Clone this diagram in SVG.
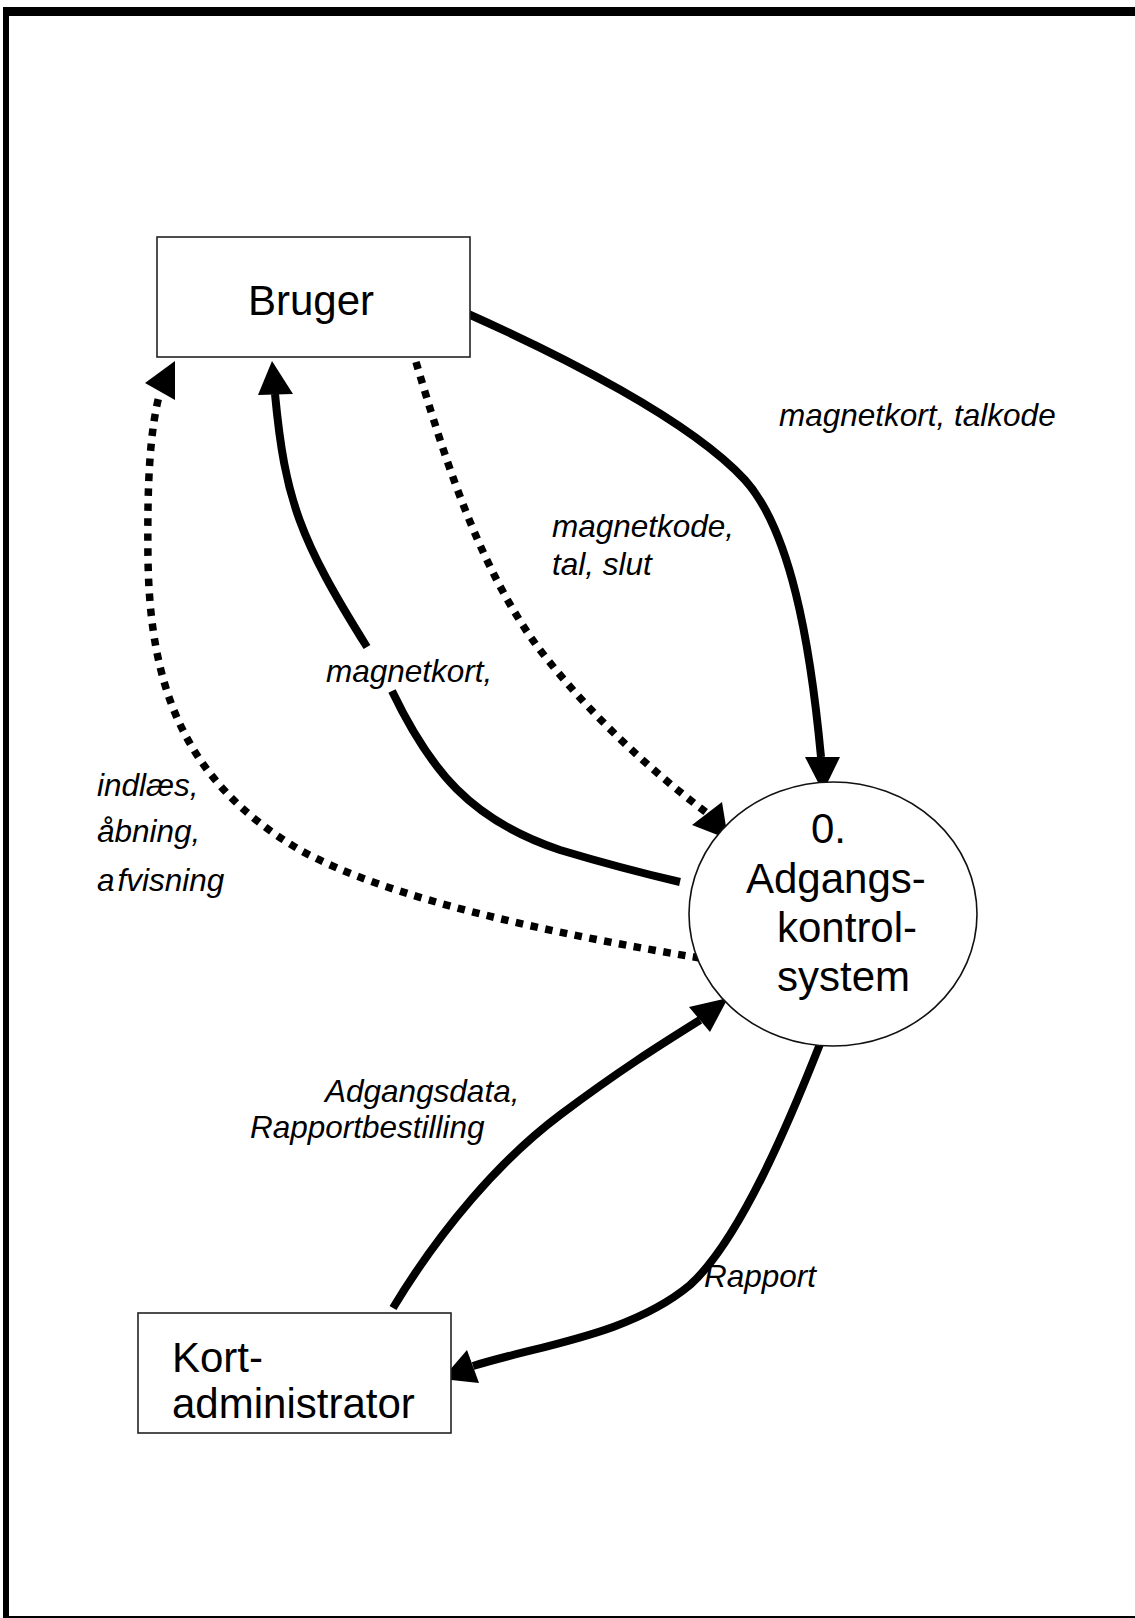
<svg xmlns="http://www.w3.org/2000/svg" width="1135" height="1618" viewBox="0 0 1135 1618">
  <style>
    .frame { fill: #000; }
    .box { fill: #fff; stroke: #222; stroke-width: 1.6; }
    .proc { fill: #fff; stroke: #111; stroke-width: 1.6; }
    .name { font-family: "Liberation Sans", Arial, sans-serif; font-size: 42px; fill: #000; }
    .lbl { font-family: "Liberation Sans", Arial, sans-serif; font-size: 31.5px; font-style: italic; fill: #000; }
    .flow { fill: none; stroke: #000; stroke-width: 8; }
    .dot { fill: none; stroke: #000; stroke-width: 7.5; stroke-dasharray: 7.5 7.5; }
    .head { fill: #000; }
  </style>

  <!-- page frame -->
  <g id="frame">
    <rect class="frame" x="3" y="7" width="1132" height="9"/>
    <rect class="frame" x="3" y="7" width="6" height="1611"/>
    <rect class="frame" x="3" y="1616" width="1132" height="2"/>
  </g>

  <!-- data flows -->
  <g id="connectors">
    <!-- Bruger -> system: magnetkort, talkode -->
    <path class="flow" d="M466,313 C560,355 690,420 745,480 C790,530 810,640 821,757"/>
    <polygon class="head" points="823,792 805,757 840,757"/>

    <!-- Bruger -> system: magnetkode, tal, slut (dotted) -->
    <path class="dot" d="M416,362 C445,460 480,570 540,650 C590,715 650,770 707,813"/>
    <polygon class="head" points="728,839 692,825 722,802"/>

    <!-- system -> Bruger: magnetkort -->
    <path class="flow" d="M680,882 C650,875 620,868 560,850 C470,820 430,770 392,691"/>
    <path class="flow" d="M367,647 C300,540 285,500 275,394"/>
    <polygon class="head" points="272,361 258,395 293,394"/>

    <!-- system -> Bruger: indlæs, åbning, afvisning (dotted) -->
    <path class="dot" d="M700,958 C560,935 390,900 300,850 C180,780 150,680 148,560 C147,480 150,430 160,392"/>
    <polygon class="head" points="175,361 145,383 175,400"/>

    <!-- Kortadministrator -> system -->
    <path class="flow" d="M393,1308 C440,1230 500,1160 560,1115 C620,1070 660,1045 700,1020"/>
    <polygon class="head" points="728,998 689,1007 710,1032"/>

    <!-- system -> Kortadministrator: Rapport -->
    <path class="flow" d="M820,1044 C790,1120 740,1240 690,1285 C630,1335 540,1345 473,1366"/>
    <polygon class="head" points="442,1379 467,1350 479,1383"/>
  </g>

  <!-- flow labels -->
  <g id="labels">
    <text class="lbl" x="779" y="426">magnetkort, talkode</text>
    <text class="lbl" x="552" y="537">magnetkode,</text>
    <text class="lbl" x="552" y="575">tal, slut</text>
    <text class="lbl" x="326" y="682">magnetkort,</text>
    <text class="lbl" x="97" y="796">indlæs,</text>
    <text class="lbl" x="97" y="842">åbning,</text>
    <text class="lbl" x="97" y="891">a<tspan dx="3">fvisning</tspan></text>
    <text class="lbl" x="325" y="1102">Adgangsdata,</text>
    <text class="lbl" x="250" y="1138">Rapportbestilling</text>
    <text class="lbl" x="704" y="1287">Rapport</text>
  </g>

  <!-- external entity: Bruger -->
  <g id="bruger">
    <rect class="box" x="157" y="237" width="313" height="120"/>
    <text class="name" x="248" y="315">Bruger</text>
  </g>

  <!-- process 0 -->
  <g id="adgangskontrolsystem">
    <ellipse class="proc" cx="833" cy="914" rx="144" ry="132"/>
    <text class="name" x="811" y="843">0.</text>
    <text class="name" x="746" y="893">Adgangs-</text>
    <text class="name" x="777" y="942">kontrol-</text>
    <text class="name" x="777" y="991">system</text>
  </g>

  <!-- external entity: Kortadministrator -->
  <g id="kortadministrator">
    <rect class="box" x="138" y="1313" width="313" height="120"/>
    <text class="name" x="172" y="1372">Kort-</text>
    <text class="name" x="172" y="1418">administrator</text>
  </g>
</svg>
